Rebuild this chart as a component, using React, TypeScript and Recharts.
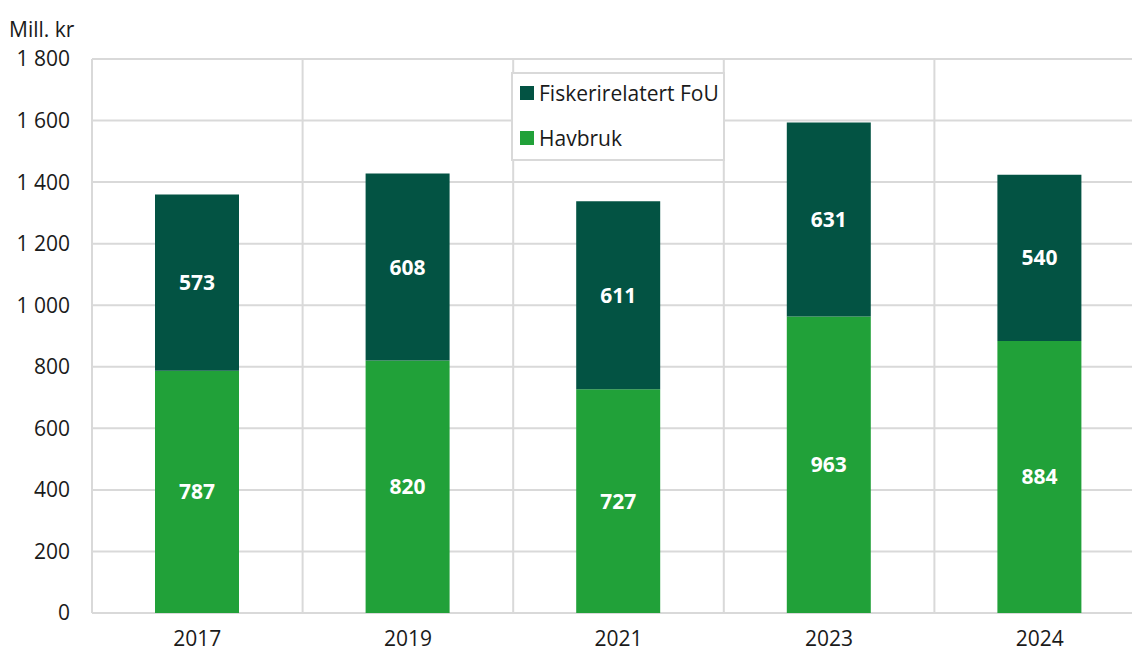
import React from 'react';
import { BarChart, Bar, XAxis, YAxis, CartesianGrid, LabelList, Legend } from 'recharts';

const years = ['2017', '2019', '2021', '2023', '2024'];
const havbruk = [787, 820, 727, 963, 884];
const fiskeri = [573, 608, 611, 631, 540];
const yTicks = [0, 200, 400, 600, 800, 1000, 1200, 1400, 1600, 1800];
const seriesNames = { fiskeri: 'Fiskerirelatert FoU', havbruk: 'Havbruk' };
const colors = { fiskeri: '#035343', havbruk: '#21a139' };

const data = years.map((y, i) => ({ year: y, havbruk: havbruk[i], fiskeri: fiskeri[i] }));

const fmt = (v: number) => String(v).replace(/\B(?=(\d{3})+(?!\d))/g, '\u00a0');

const FONT = '"Open Sans", sans-serif';
const FS = 21;

const LegendBox = () => (
  <div
    style={{
      position: 'absolute',
      left: 511,
      top: 72,
      width: 210,
      height: 85,
      border: '2px solid #d9d9d9',
      background: '#fff',
      fontFamily: FONT,
      fontSize: FS,
      color: '#1a1a1a',
      boxSizing: 'content-box',
    }}
  >
    {(['fiskeri', 'havbruk'] as const).map((k, i) => (
      <div key={k} style={{ position: 'absolute', left: 7, top: 5 + i * 45, display: 'flex', alignItems: 'center', whiteSpace: 'nowrap' }}>
        <span style={{ display: 'inline-block', width: 14, height: 14, background: colors[k], marginRight: 5 }} />
        <span>{seriesNames[k]}</span>
      </div>
    ))}
  </div>
);

const vGen = ({ offset }: any) => {
  const step = offset.width / years.length;
  return Array.from({ length: years.length + 1 }, (_, i) => offset.left + i * step);
};

export default function App() {
  return (
    <div style={{ position: 'fixed', left: 0, top: 0, width: 1132, height: 653, overflow: 'hidden', background: '#fff', fontFamily: FONT }}>
      <div style={{ position: 'absolute', left: 9, top: 15, fontSize: FS, color: '#1a1a1a', fontFamily: FONT }}>Mill. kr</div>
      <BarChart width={1160} height={653} data={data} margin={{ top: 59, right: 15, bottom: 0, left: 0 }} barCategoryGap={0}>
        <CartesianGrid stroke="#d9d9d9" strokeWidth={2} verticalCoordinatesGenerator={vGen} />
        <XAxis
          dataKey="year"
          axisLine={false}
          tickLine={false}
          tickSize={0}
          tickMargin={18}
          height={40}
          tick={{ fill: '#1a1a1a', fontSize: FS, fontFamily: FONT }}
        />
        <YAxis
          domain={[0, 1800]}
          ticks={yTicks}
          axisLine={false}
          tickLine={false}
          tickSize={0}
          tickMargin={22}
          width={92}
          tickFormatter={fmt}
          tick={{ fill: '#1a1a1a', fontSize: FS, fontFamily: FONT }}
        />
        <Legend content={() => <LegendBox />} wrapperStyle={{ left: 0, top: 0, width: 0, height: 0 }} />
        <Bar dataKey="havbruk" name={seriesNames.havbruk} stackId="a" fill={colors.havbruk} barSize={84} isAnimationActive={false}>
          <LabelList dataKey="havbruk" position="center" fill="#fff" fontWeight="bold" fontSize={FS} fontFamily={FONT} />
        </Bar>
        <Bar dataKey="fiskeri" name={seriesNames.fiskeri} stackId="a" fill={colors.fiskeri} barSize={84} isAnimationActive={false}>
          <LabelList dataKey="fiskeri" position="center" fill="#fff" fontWeight="bold" fontSize={FS} fontFamily={FONT} />
        </Bar>
      </BarChart>
    </div>
  );
}
